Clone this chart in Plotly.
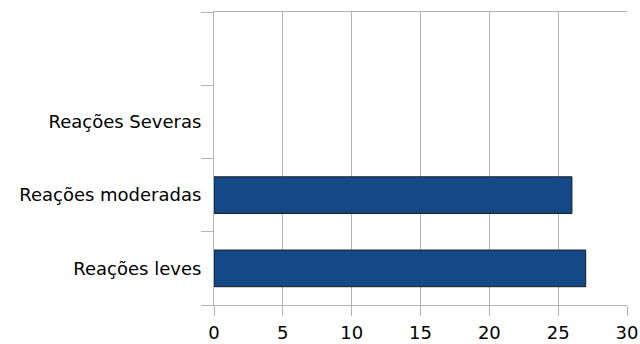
import plotly.graph_objects as go

categories = ["Reações leves", "Reações moderadas", "Reações Severas", " "]
values = [27, 26, 0, None]
x_ticks = [0, 5, 10, 15, 20, 25, 30]

GRID = "#b3b3b3"
BAR = "#134987"

fig = go.Figure(
    go.Bar(
        y=categories,
        x=values,
        orientation="h",
        width=0.5,
        marker=dict(color=BAR, line=dict(color="#1a1a1a", width=[1, 1, 0, 0])),
    )
)

fig.update_layout(
    width=640,
    height=344,
    margin=dict(l=214, r=13, t=12, b=39, autoexpand=False),
    paper_bgcolor="white",
    plot_bgcolor="white",
    showlegend=False,
    font=dict(family="DejaVu Sans, Liberation Sans, sans-serif", size=18, color="black"),
)

fig.update_xaxes(
    range=[0, 30],
    tickvals=x_ticks,
    showgrid=True,
    gridcolor=GRID,
    gridwidth=1,
    zeroline=False,
    showline=True,
    linecolor=GRID,
    linewidth=1,
    mirror=True,
    ticks="outside",
    ticklen=10,
    tickcolor=GRID,
    tickfont=dict(size=18),
    ticklabelstandoff=1,
    automargin=False,
)

fig.update_yaxes(
    type="category",
    categoryorder="array",
    categoryarray=categories,
    range=[-0.5, 3.5],
    showgrid=False,
    zeroline=False,
    showline=True,
    linecolor=GRID,
    linewidth=1,
    ticks="outside",
    tickson="boundaries",
    ticklen=12,
    tickcolor=GRID,
    tickfont=dict(size=18),
    ticklabelstandoff=8,
    automargin=False,
)

fig.write_html("out.html")
